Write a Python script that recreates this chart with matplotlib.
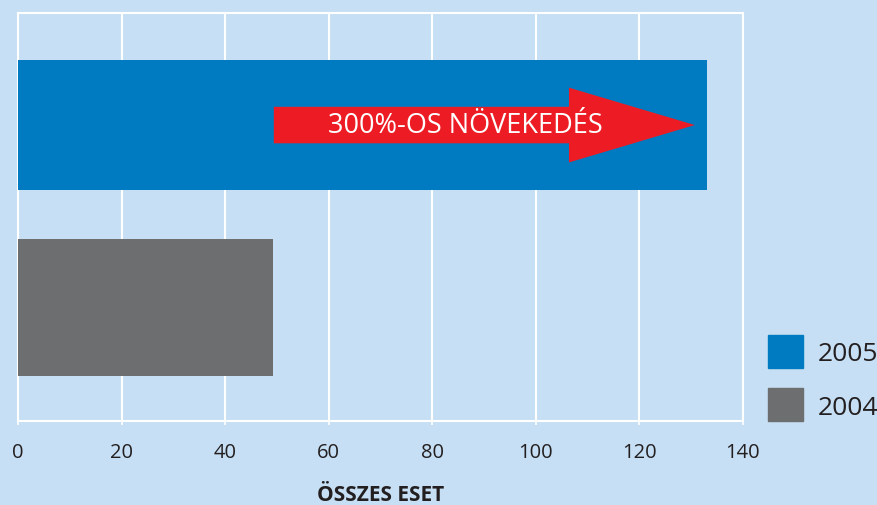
import matplotlib
matplotlib.use("Agg")
import matplotlib.pyplot as plt
from matplotlib.patches import FancyArrow, Patch

plt.rcParams["font.family"] = ["Open Sans", "DejaVu Sans"]

years = ["2004", "2005"]
cases = [49.2, 133.0]
bar_colors = ["#6d6e70", "#007bc2"]
arrow_start = 49.4
arrow_end = 130.7
arrow_text = "300%-OS NÖVEKEDÉS"
x_ticks = [0, 20, 40, 60, 80, 100, 120, 140]
x_label = "ÖSSZES ESET"

bg = "#c6dff4"
text_color = "#231f20"

fig = plt.figure(figsize=(8.78, 5.06), dpi=100, facecolor=bg)
ax = fig.add_axes([0.0205, 0.166, 0.8257, 0.8063])
ax.set_facecolor(bg)

pos = list(range(len(years)))
bars = ax.barh(pos, cases, height=[0.75, 0.71], color=bar_colors, zorder=3)

ax.set_xlim(0, 140)
ax.set_ylim(-0.622, 1.614)
ax.set_yticks([])
ax.set_xticks(x_ticks)
ax.grid(axis="x", color="white", linewidth=1.5, zorder=1)
ax.tick_params(axis="x", colors="white", length=3, width=1.2, pad=12,
               labelsize=14.5, labelcolor=text_color)
for s in ["top", "left", "right", "bottom"]:
    ax.spines[s].set_color("white")
    ax.spines[s].set_linewidth(1.5)

# red growth arrow on the 2005 bar
arr = FancyArrow(arrow_start, pos[1], arrow_end - arrow_start, 0,
                 width=0.2, head_width=0.41, head_length=24.3,
                 length_includes_head=True, color="#ed1c24", lw=0, zorder=4)
ax.add_patch(arr)
ax.text(86.3, pos[1], arrow_text, color="white", fontsize=19.5,
        ha="center", va="center", zorder=5)

ax.set_xlabel(x_label, fontsize=15, fontweight="bold", color=text_color,
              labelpad=16)

handles = [Patch(color=bar_colors[1]), Patch(color=bar_colors[0])]
ax.legend(handles, [years[1], years[0]], loc="lower left",
          bbox_to_anchor=(1.02, -0.027), frameon=False, fontsize=19,
          handlelength=1.33, handleheight=1.55, handletextpad=0.55,
          labelspacing=0.78, borderaxespad=0, labelcolor=text_color)

fig.savefig("out.png", dpi=100, facecolor=bg)
